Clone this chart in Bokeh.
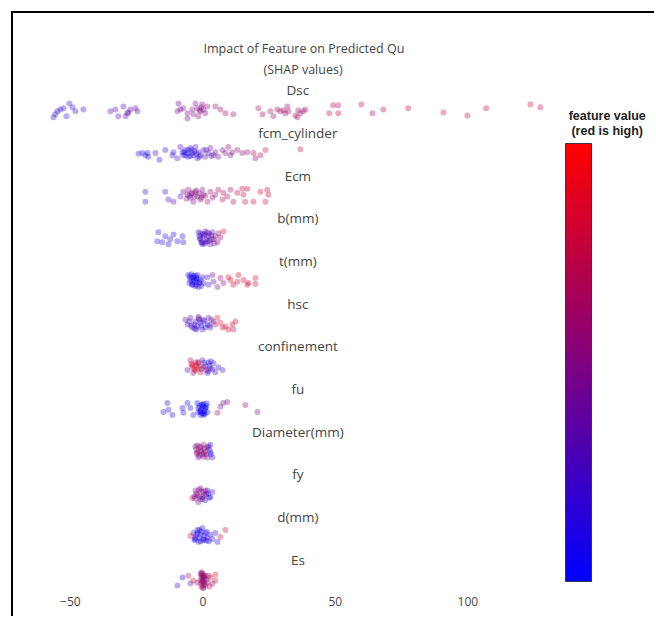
from bokeh.plotting import figure
from bokeh.models import (ColumnDataSource, LinearColorMapper, ColorBar, FixedTicker,
                          Range1d, Title)
from bokeh.core.properties import value
from bokeh.embed import file_html
from bokeh.resources import INLINE

# Features, top row first
features = ["Dsc", "fcm_cylinder", "Ecm", "b(mm)", "t(mm)", "hsc", "confinement",
            "fu", "Diameter(mm)", "fy", "d(mm)", "Es"]

# SHAP value, vertical jitter (in row units) and normalised feature value per sample
dsc_shap = [-56.4, -55.7, -54.9, -53.8, -52.6, -51.5, -50.4, -49.2, -48.1, -45.1,
            -34.9, -33.0, -31.9, -30.0, -29.2, -28.5, -28.1, -27.4, -25.5, -24.7,
            -9.6, -9.2, -8.5, -7.4, -5.8, -5.8, -4.0, -3.6, -2.8, -2.1, -1.7, -0.9, -0.2, 0.2,
            0.9, 1.7, -1.3, -0.6, 4.7, 6.6, 8.5, 11.5,
            20.9, 22.5, 25.5, 26.6, 28.1, 29.2, 30.4, 31.1, 32.3, 31.9,
            34.9, 35.7, 36.0, 36.8, 37.9, 38.7,
            47.7, 49.2, 51.1, 51.1, 59.8, 64.0, 68.1, 77.5, 90.8, 99.8, 106.9, 123.6, 127.4]
dsc_jit = [-0.16, -0.09, -0.02, 0.02, 0.05, -0.14, 0.16, 0.07, -0.02, 0.02,
           -0.02, 0.02, -0.14, 0.09, -0.14, -0.07, -0.05, 0.02, 0.05, -0.02,
           -0.02, 0.16, 0.02, 0.05, -0.07, -0.19, 0.02, -0.09, 0.16, 0.05, -0.14, -0.02, 0.14, 0.02,
           -0.07, 0.09, 0.0, 0.07, 0.09, 0.02, -0.07, -0.09,
           0.05, -0.09, -0.02, -0.14, 0.02, -0.02, 0.0, -0.07, -0.02, 0.09,
           -0.12, -0.16, 0.0, -0.07, -0.02, 0.02,
           -0.07, 0.12, 0.12, -0.07, 0.14, -0.07, 0.02, 0.05, -0.05, -0.12, 0.05, 0.14, 0.07]
dsc_val = [.15, .15, .2, .15, .2, .15, .2, .2, .25, .25,
           .3, .3, .3, .3, .3, .35, .4, .3, .35, .35,
           .45, .4, .45, .45, .45, .4, .5, .5, .45, .5, .5, .5, .5, .5,
           .5, .55, .5, .5, .55, .6, .6, .65,
           .6, .6, .65, .6, .65, .6, .65, .6, .6, .6,
           .6, .65, .6, .6, .65, .6,
           .75, .7, .7, .75, .65, .6, .7, .75, .8, .8, .8, .8, .75]

fcm_shap = [-24.3, -22.8, -21.7, -20.9, -20.6, -17.9, -16.4, -14.2, -11.5, -11.1, -9.6, -8.5,
            -7.7, -7.4, -6.6, -5.8, -5.5, -4.7, -4.0, -3.6, -2.8, -2.1, -1.7, -0.9, 0.2, 0.9,
            2.1, 2.8, 4.0, 4.7, 5.8, 7.4, 8.5, 9.6, 10.4, 11.1, 13.0, 14.9, 16.8, 19.1, 19.8,
            21.7, 23.6, 36.8, -6.6, -5.5, -4.7, -3.2, -2.5, -7.0, -4.3, -1.3, 1.3, 3.2]
fcm_jit = [-0.02, 0, -0.05, 0, -0.09, 0, -0.16, 0.07, -0.05, 0.02, -0.12, 0.14,
           0.02, -0.05, 0.07, 0, -0.09, 0.12, 0, -0.05, 0.14, -0.12, 0.02, -0.05, 0.07, -0.09,
           0, 0.12, -0.05, 0.02, -0.09, 0.07, 0, 0.14, -0.05, 0.02, 0.07, 0, 0.02, 0, -0.12,
           -0.05, 0.07, 0.09, -0.05, 0.07, -0.07, 0.05, -0.02, 0.02, 0.07, -0.09, 0.07, -0.07]
fcm_val = [.1, .1, .15, .1, .1, .15, .1, .15, .2, .15, .2, .2,
           .15, .1, .15, .1, .15, .2, .15, .2, .25, .2, .2, .25, .3, .3,
           .3, .35, .35, .4, .4, .45, .45, .5, .5, .5, .55, .55, .6, .65, .5,
           .7, .8, .8, .1, .1, .15, .2, .15, .1, .15, .2, .3, .3]

ecm_shap = [-21.7, -21.7, -14.2, -13.0, -11.1, -8.5, -7.4, -5.8, -5.5, -4.7, -4.0, -3.6,
            -2.8, -2.1, -0.9, -0.2, 0.2, 1.7, 2.8, 3.6, 4.7, 5.8, 7.4, 7.7, 9.2, 10.4, 11.5,
            13.0, 14.9, 15.3, 16.8, 16.0, 19.1, 21.7, 23.6, 24.3, 24.7,
            -5.1, -4.3, -3.2, -2.5, -1.3, -6.2, -0.6, 0.9]
ecm_jit = [0.09, -0.14, 0.09, -0.09, -0.14, -0.02, 0.09, 0.02, 0.14, -0.05, 0.07, -0.14,
           0.09, -0.02, -0.09, 0.14, 0.02, -0.14, 0.09, -0.05, 0.02, 0.14, -0.09, 0.07, -0.02,
           0.14, -0.14, 0.07, 0.16, 0.02, 0.16, -0.14, -0.14, 0.09, -0.14, 0.14, 0.02,
           0, 0.05, -0.02, 0.12, 0.05, -0.07, -0.05, 0]
ecm_val = [.2, .2, .25, .3, .3, .35, .4, .45, .5, .45, .5, .5,
           .55, .5, .55, .5, .55, .6, .55, .6, .6, .65, .65, .6, .7, .7, .65,
           .7, .75, .75, .75, .8, .8, .8, .85, .8, .8,
           .45, .5, .5, .5, .55, .45, .5, .55]

bmm_shap = [-17.2, -16.8, -15.3, -14.2, -13.0, -12.3, -11.1, -9.6, -7.7, -7.4,
            -1.7, -0.9, -0.2, 0.2, 0.9, 1.7, 2.1, 2.8, 3.6, 4.0, 4.7, 5.5, 6.6, 7.7,
            -1.3, -0.6, 0.6, 1.3, 2.5, 3.2, -0.9, 0.6, 1.7, 4.3, 5.8,
            -1.1, 0.0, 1.1, 2.3, 3.4, -0.4]
bmm_jit = [-0.07, 0.14, -0.09, 0.05, -0.14, -0.02, 0.09, -0.07, 0.05, -0.09,
           0.14, -0.02, -0.14, 0.05, 0.16, -0.07, 0.05, -0.14, 0.14, -0.02, 0.05, -0.09, 0.02, 0.16,
           0.05, -0.09, 0.09, -0.02, -0.05, 0.07, 0.12, -0.12, 0.14, -0.12, 0.12,
           0.0, 0.1, -0.1, 0.11, -0.02, -0.1]
bmm_val = [.15, .1, .15, .15, .1, .15, .1, .15, .1, .15,
           .2, .3, .2, .25, .4, .3, .25, .35, .3, .4, .55, .5, .6, .85,
           .2, .25, .3, .25, .3, .35, .2, .3, .4, .45, .6,
           .2, .25, .3, .3, .4, .2]

tmm_shap = [-5.5, -4.7, -4.0, -3.6, -2.8, -2.1, -1.7, -0.9, -0.2, 0.2, 1.7, 2.1, 3.6, 4.0,
            5.5, 6.6, 7.7, 9.6, 10.4, 11.5, 13.0, 13.4, 15.3, 16.8, 17.2, 19.8, 19.8,
            -5.1, -4.3, -3.2, -2.5, -1.3, -4.3, -2.5, -0.6,
            -4.9, -4.1, -3.4, -2.9, -2.2, -1.5, -3.8, -2.6]
tmm_jit = [0.14, 0.02, -0.09, 0.09, -0.02, 0.14, -0.14, 0.02, 0.09, -0.05, 0.09, -0.09, 0.14, -0.02,
           -0.14, 0.07, -0.05, 0.09, 0.02, -0.09, -0.02, 0.14, 0.02, -0.09, -0.05, 0.07, -0.07,
           -0.05, 0.07, 0.02, -0.09, -0.05, 0.16, 0.07, -0.12,
           0.1, -0.08, 0.12, -0.12, 0.04, -0.03, -0.01, 0.11]
tmm_val = [.1, .1, .15, .1, .1, .15, .1, .1, .15, .2, .3, .25, .4, .35,
           .5, .6, .6, .85, .9, .75, .8, .8, .85, .8, .75, .85, .8,
           .1, .1, .1, .15, .1, .1, .1, .15,
           .05, .1, .05, .1, .05, .1, .05, .1]

hsc_shap = [-6.6, -5.8, -4.7, -4.0, -2.8, -2.1, -1.7, -0.9, -0.2, 0.2, 1.7, 2.1, 2.8, 4.0,
            4.7, 5.5, 6.6, 7.4, 8.5, 9.6, 11.1, 12.3, 11.5,
            -3.2, -1.3, 0.9, -2.5, -0.6, 3.2, -5.1,
            -4.4, -3.0, -1.5, 0.5, 2.5]
hsc_jit = [0.09, -0.02, 0.14, -0.09, 0.05, -0.07, 0.16, 0.02, -0.14, 0.09, -0.02, 0.14, -0.09, 0.05,
           -0.02, 0.14, 0.02, -0.09, -0.07, -0.14, -0.02, 0.05, -0.14,
           -0.02, 0.09, -0.09, -0.14, -0.05, 0.09, 0.05,
           -0.05, -0.12, 0.12, 0.06, -0.04]
hsc_val = [.3, .2, .35, .15, .2, .1, .4, .2, .15, .3, .15, .35, .2, .5,
           .6, .85, .85, .8, .75, .8, .8, .8, .75,
           .25, .3, .15, .2, .2, .4, .3,
           .3, .2, .35, .15, .3]

conf_shap = [-5.8, -4.7, -4.0, -3.6, -2.8, -2.1, -1.7, -0.9, -0.2, 0.2, 1.7, 2.1, 2.8, 4.0,
             4.7, 5.8, 7.4, -3.2, -2.5, -1.3, -0.6, 0.9, 1.3, -4.3, 2.5, 3.6,
             -3.9, -2.9, -1.9, 0.5, 2.0, 3.0]
conf_jit = [-0.09, 0.14, -0.02, -0.16, 0.09, -0.05, 0.07, -0.14, 0.14, -0.02, -0.16, 0.09, -0.05, 0.07,
            -0.14, -0.02, -0.09, -0.07, 0.02, 0, -0.07, 0, -0.09, 0.05, 0.02, -0.07,
            0.03, -0.1, 0.1, 0.08, -0.11, 0.12]
conf_val = [.2, .6, .9, .5, .8, .9, .3, .85, .2, .9, .15, .2, .15, .3,
            .2, .15, .3, .85, .9, .8, .4, .2, .6, .7, .1, .2,
            .9, .85, .9, .15, .2, .1]

fu_shap = [-13.4, -13.0, -11.5, -7.7, -7.4, -5.8, -4.7, -3.6, -2.1, -1.7, -0.9, -0.2, 0.2, 0.9,
           1.7, 5.5, 6.6, 7.7, 9.2, 16.0, 20.6, -1.3, -0.6, 0.6, -0.9, 0.2, 1.3, -1.7, -14.9,
           -0.5, 0.4, 1.0, -1.0, 0.1, 0.7, -0.3, 1.4]
fu_jit = [0.14, -0.02, -0.14, 0.02, -0.09, 0.14, 0.02, -0.14, 0.14, 0.02, -0.07, 0.09, -0.14, 0.02,
          -0.07, -0.09, 0.05, 0.14, 0.16, 0.09, -0.07, 0.07, -0.02, -0.05, -0.14, 0.12, 0.07, -0.07, -0.07,
          0.1, -0.1, 0.03, -0.04, 0.06, -0.12, -0.1, 0.13]
fu_val = [.15, .1, .15, .1, .15, .1, .05, .1, .05, .05, .05, .1, .05, .1,
          .05, .7, .45, .4, .5, .6, .45, .05, .05, .05, .05, .05, .1, .05, .15,
          .05, .05, .05, .05, .05, .05, .05, .05]

dia_shap = [-2.8, -2.1, -1.7, -0.9, -0.2, 0.2, 0.9, 1.7, 2.1, 2.8, 3.6, 2.8,
            -2.5, -1.3, -0.6, 0.6, 1.3, -1.3, 0.2, 2.5, -2.1,
            -2.3, -1.0, 0.4, 1.6, 3.1]
dia_jit = [0.12, -0.02, -0.14, 0.09, -0.07, 0.16, 0, -0.14, 0.12, -0.02, -0.14, 0.16,
           0.05, 0, 0.02, 0.07, -0.07, -0.09, -0.12, 0.05, 0.14,
           -0.05, 0.12, -0.04, 0.1, -0.06]
dia_val = [.5, .6, .4, .8, .5, .7, .45, .6, .2, .1, .15, .1,
           .5, .55, .6, .45, .5, .5, .4, .15, .45,
           .55, .5, .6, .45, .1]

fy_shap = [-4.0, -2.8, -2.1, -1.7, -0.9, -0.2, 0.2, 0.9, 1.7, 2.8, 3.6,
           -2.5, -1.3, -0.6, 0.6, 1.3, -0.9, 2.1, -3.2,
           -2.9, -1.5, -0.1, 1.0, 2.4]
fy_jit = [-0.09, 0.09, -0.02, -0.19, 0.14, -0.07, 0.05, -0.14, 0.09, -0.07, 0.05,
          0.02, -0.05, 0.07, -0.02, 0, -0.12, 0.02, -0.05,
          -0.1, 0.1, -0.11, 0.09, -0.08]
fy_val = [.8, .5, .45, .5, .4, .3, .5, .2, .15, .1, .2,
          .5, .45, .5, .6, .2, .4, .15, .5,
          .45, .5, .4, .55, .15]

dmm_shap = [-3.6, -2.8, -2.1, -1.7, -0.9, -0.2, 0.2, 0.9, 1.7, 2.8, 4.7, 5.5, 6.6, 8.5,
            -2.5, -1.3, -0.6, 0.6, -1.3, 1.3, -3.2, 3.6, -4.7,
            -3.0, -2.0, -0.9, 0.3, 1.5, 2.3]
dmm_jit = [0.09, -0.02, 0.16, -0.12, 0.05, 0.21, -0.07, 0.09, -0.02, 0.05, 0.09, -0.12, 0, 0.16,
           0.05, -0.02, 0.12, 0.02, 0.16, -0.09, -0.07, -0.05, 0.02,
           -0.05, 0.1, -0.1, -0.06, 0.12, -0.1]
dmm_val = [.1, .15, .1, .1, .1, .15, .1, .1, .15, .1, .2, .1, .8, .85,
           .1, .1, .1, .15, .1, .2, .1, .15, .8,
           .1, .1, .1, .1, .1, .1]

es_shap = [-9.6, -7.7, -5.5, -4.7, -3.6, -2.1, -0.9, -0.2, 0.2, 0.9, 1.7, 2.8, 3.6, 4.7, 4.7,
           -0.6, -0.2, 0.2, -0.6, 0.6, -0.2, 0.2, 0.6, -0.9, -0.6, 0.9, 1.3, 2.1, 2.5,
           -0.4, 0.0, 0.4, -0.1, 0.3, -0.5]
es_jit = [-0.14, 0.05, 0.09, -0.09, -0.02, -0.07, 0.14, 0.02, -0.19, 0.09, -0.07, 0.05, -0.09, 0.12, -0.02,
          0.07, -0.05, -0.12, -0.16, 0, 0.14, 0.07, -0.09, -0.02, -0.09, -0.14, 0, 0.09, -0.16,
          0.17, -0.2, 0.1, -0.03, 0.04, 0.11]
es_val = [.2, .1, .7, .3, .8, .6, .55, .55, .6, .55, .6, .75, .7, .8, .75,
          .55, .6, .55, .6, .55, .6, .55, .6, .55, .6, .6, .65, .7, .7,
          .55, .6, .55, .6, .55, .6]

tick_values = [-50, 0, 50, 100]
colorbar_title = ["feature value", "(red is high)"]

rows = [
    (dsc_shap, dsc_jit, dsc_val), (fcm_shap, fcm_jit, fcm_val), (ecm_shap, ecm_jit, ecm_val),
    (bmm_shap, bmm_jit, bmm_val), (tmm_shap, tmm_jit, tmm_val), (hsc_shap, hsc_jit, hsc_val),
    (conf_shap, conf_jit, conf_val), (fu_shap, fu_jit, fu_val), (dia_shap, dia_jit, dia_val),
    (fy_shap, fy_jit, fy_val), (dmm_shap, dmm_jit, dmm_val), (es_shap, es_jit, es_val),
]

n = len(features)
xs, ys, vals = [], [], []
for i, (s, j, v) in enumerate(rows):
    level = n - 1 - i
    xs += s
    ys += [level + d for d in j]
    vals += v
src = ColumnDataSource(dict(x=xs, y=ys, val=vals))

# blue (low) -> purple -> red (high)
palette = ["#%02x%02x%02x" % (k, 0, 255 - k) for k in range(256)]
mapper = LinearColorMapper(palette=palette, low=0, high=1)

# the scatter area spans x0..x_scatter_end; the frame continues right to hold the colour bar
x0, x_scatter_end, x1 = -59.4, 131.1, 171.2
p = figure(width=643, height=605, x_range=Range1d(x0, x1), y_range=Range1d(-0.28, 11.70),
           output_backend="svg", toolbar_location=None, y_axis_location=None,
           min_border_left=32, min_border_right=0, min_border_top=67, min_border_bottom=27,
           styles={"margin-left": "11px", "margin-top": "11px",
                   "border-left": "2px solid #000", "border-top": "2px solid #000"})
p.outline_line_color = None
p.xgrid.visible = False
p.ygrid.visible = False
p.background_fill_color = "white"

p.add_layout(Title(text="(SHAP values)", align="left", offset=218, text_font="Open Sans",
                   text_font_size="12.5px", text_font_style="normal", text_color="#444",
                   standoff=5), "above")
p.add_layout(Title(text="Impact of Feature on Predicted Qu", align="left", offset=158,
                   text_font="Open Sans", text_font_size="12.5px", text_font_style="normal",
                   text_color="#444", standoff=0), "above")

ax = p.xaxis[0]
ax.ticker = FixedTicker(ticks=tick_values)
ax.major_label_overrides = {t: (str(t).replace("-", "\u2212")) for t in tick_values}
ax.axis_line_color = None
ax.major_tick_line_color = None
ax.minor_tick_line_color = None
ax.major_tick_out = 0
ax.major_tick_in = 0
ax.major_label_standoff = 5
ax.major_label_text_font = "Open Sans"
ax.major_label_text_font_size = "12px"
ax.major_label_text_color = "#444"

p.scatter(x="x", y="y", source=src, size=6, line_color=None,
          fill_color={"field": "val", "transform": mapper}, fill_alpha=0.33)

mid = (x0 + x_scatter_end) / 2
p.text(x=[mid] * n, y=[n - 1 - i + 0.47 for i in range(n)], text=features,
       text_align="center", text_baseline="middle", text_font=value("Open Sans"),
       text_font_size="13.5px", text_color="#444")

cb = ColorBar(color_mapper=mapper, width=26, height=438, location=(520, 10),
              padding=0, margin=0, ticker=FixedTicker(ticks=[]),
              major_tick_line_color=None, major_label_text_font_size="0px",
              bar_line_color="#333355", bar_line_width=1,
              background_fill_alpha=0, border_line_color=None)
p.add_layout(cb, "center")

# two-line heading over the colour bar
p.text(x=[152.6, 152.6], y=[10.86, 10.51], text=colorbar_title,
       text_align="center", text_baseline="middle", text_font=value("Liberation Sans"),
       text_font_size="12.5px", text_font_style="bold", text_color="#222")

open("out.html", "w").write(file_html(p, INLINE))
